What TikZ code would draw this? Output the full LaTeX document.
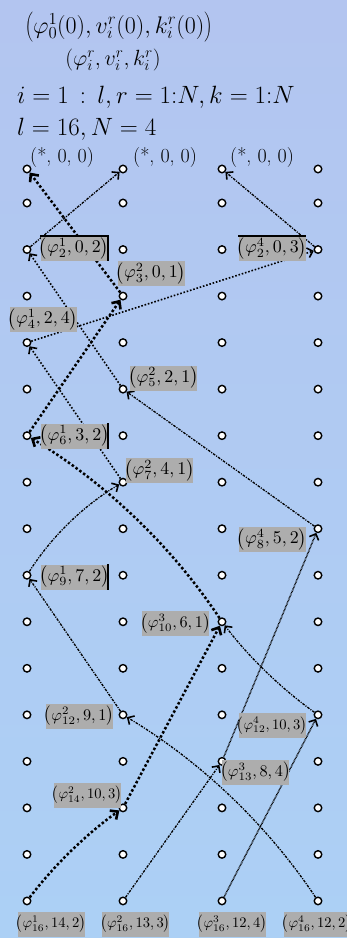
\documentclass[tikz,border=0pt]{standalone}
\usepackage{fix-cm}
\usepackage{graphicx}
\usetikzlibrary{arrows.meta,calc}
\definecolor{bgtop}{RGB}{179,197,240}
\definecolor{bgbot}{RGB}{172,208,245}
\newsavebox\lblbox
\newcommand{\lbl}[3]{\sbox\lblbox{$\left(\varphi^{#1}_{#2},#3\right)$}%
  \resizebox{70pt}{!}{\usebox\lblbox}}
\tikzset{
  dot/.style={circle,draw=black,fill=white,line width=1.4pt,minimum size=7.5pt,inner sep=0pt},
  lab/.style={fill=black!32,inner xsep=-1.8pt,inner ysep=0pt,minimum width=67pt,minimum height=25pt,font=\fontsize{10}{12}\selectfont},
  barb/.style={-{Straight Barb[length=5pt,width=10pt,line width=1.6pt]}},
  lnheavy/.style={line width=2.5pt,dash pattern=on 2.5pt off 2.2pt,-{Straight Barb[length=6pt,width=11pt,line width=2.6pt]}},
  lndot/.style={barb,line width=1.6pt,dash pattern=on 1.6pt off 1.8pt},
  lndash/.style={barb,line width=1.3pt,dash pattern=on 2.6pt off 1.2pt on 1.1pt off 1.2pt},
  lnhatch/.style={barb,line width=1.5pt,dash pattern=on 0.7pt off 0.7pt},
  edgeline/.style={line width=1.6pt}
}
\begin{document}
\begin{tikzpicture}[x=1pt,y=-1pt]
\shade[top color=bgtop,bottom color=bgbot] (0,0) rectangle (347,938);
\useasboundingbox (0,0) rectangle (347,938);

% header texts
\node[anchor=base west,inner sep=0pt,font=\fontsize{24}{24}\selectfont] (t1) at (25,33)
  {$\left(\varphi_0^1(0), v_i^r(0), k_i^r(0)\right)$};
\node[anchor=base,inner sep=0pt,font=\fontsize{22}{22}\selectfont] (t2) at (113,65)
  {$\left(\varphi_i^r, v_i^r, k_i^r\right)$};
\node[anchor=base west,inner sep=0pt,font=\fontsize{25}{25}\selectfont] (t3) at (17,103)
  {$i=1\,:\,l, r=1{:}N, k=1{:}N$};
\node[anchor=base west,inner sep=0pt,font=\fontsize{25}{25}\selectfont] (t4) at (17,135)
  {$l=16, N=4$};
\foreach \xx/\nm in {30/s1,133/s2,230/s3}
  \node[anchor=base west,inner sep=0pt,font=\fontsize{20}{20}\selectfont] (\nm) at (\xx,162) {(*, 0, 0)};

% grid of particles
\foreach \c/\xx in {1/27,2/123,3/222,4/318}
  \foreach \r in {0,...,16}{
    \pgfmathsetmacro\yy{\r==0 ? 169 : 203+(\r-1)*46.53}
    \node[dot] (d\c-\r) at (\xx,\yy) {};
  }

% ancestry connectors
\draw[lnheavy] (d2-3) -- (d1-0);
\draw[lndash] (d1-2) -- (d2-0);
\draw[lndash] (d4-2) -- (d3-0);
\draw[lndot] (d1-4) -- (d4-2);
\draw[lndot] (d2-5) -- (d1-2);
\draw[lnheavy] (d1-6) -- (d2-3);
\draw[lndot] (d2-7) -- (d1-4);
\draw[lndash] (d4-8) -- (d2-5);
\draw[lndash] (d1-9) .. controls ($(d1-9)!0.33!(d2-7)+(-7.5,-7.6)$) and ($(d1-9)!0.67!(d2-7)+(-7.5,-7.6)$) .. (d2-7);
\draw[lnheavy] (d3-10) .. controls ($(d3-10)!0.33!(d1-6)+(13.8,-14.5)$) and ($(d3-10)!0.67!(d1-6)+(13.8,-14.5)$) .. (d1-6);
\draw[lndash] (d2-12) -- (d1-9);
\draw[lndash] (d4-12) .. controls ($(d4-12)!0.33!(d3-10)+(-4.7,4.8)$) and ($(d4-12)!0.67!(d3-10)+(-4.7,4.8)$) .. (d3-10);
\draw[lnhatch] (d3-13) -- (d4-8);
\draw[lnheavy] (d2-14) -- (d3-10);
\draw[lnheavy] (d1-16) .. controls ($(d1-16)!0.33!(d2-14)+(-4.7,-4.8)$) and ($(d1-16)!0.67!(d2-14)+(-4.7,-4.8)$) .. (d2-14);
\draw[lndash] (d2-16) -- (d3-13);
\draw[lnhatch] (d3-16) -- (d4-12);
\draw[lndash] (d4-16) .. controls ($(d4-16)!0.33!(d2-12)+(13.8,-14.5)$) and ($(d4-16)!0.67!(d2-12)+(13.8,-14.5)$) .. (d2-12);

% labels
\node[lab] (L12) at (74,248.5) {\lbl{1}{2}{0,2}};
\node[lab] (L42) at (272,248.5) {\lbl{4}{2}{0,3}};
\node[lab] (L23) at (151,273.5) {\lbl{2}{3}{0,1}};
\node[lab] (L14) at (43,319.5) {\lbl{1}{4}{2,4}};
\node[lab] (L25) at (163.5,378) {\lbl{2}{5}{2,1}};
\node[lab] (L16) at (74.5,436) {\lbl{1}{6}{3,2}};
\node[lab] (L27) at (159.5,470.5) {\lbl{2}{7}{4,1}};
\node[lab] (L48) at (272,539.5) {\lbl{4}{8}{5,2}};
\node[lab] (L19) at (74.5,577) {\lbl{1}{9}{7,2}};
\node[lab] (L310) at (175.5,623.5) {\lbl{3}{10}{6,1}};
\node[lab] (L212) at (79,716) {\lbl{2}{12}{9,1}};
\node[lab] (L412) at (272,725.5) {\lbl{4}{12}{10,3}};
\node[lab] (L313) at (255.5,772) {\lbl{3}{13}{8,4}};
\node[lab] (L214) at (87,795) {\lbl{2}{14}{10,3}};
\node[lab] (B1) at (51,924) {\lbl{1}{16}{14,2}};
\node[lab] (B2) at (135.5,924) {\lbl{2}{16}{13,3}};
\node[lab] (B3) at (232,924) {\lbl{3}{16}{12,4}};
\node[lab] (B4) at (317,924) {\lbl{4}{16}{12,2}};

\draw[edgeline] (L12.north west) -- (L12.north east) -- (L12.south east);
\draw[edgeline] (L42.north west) -- (L42.north east);
\draw[edgeline] (L16.north east) -- (L16.south east);
\draw[edgeline] (L19.north east) -- (L19.south east);
\end{tikzpicture}
\end{document}
